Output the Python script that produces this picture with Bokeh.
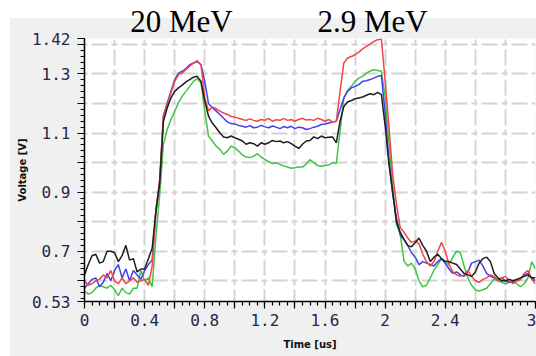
from bokeh.plotting import figure
from bokeh.models import Range1d, FixedTicker, CustomJSTickFormatter, LinearAxis
from bokeh.embed import file_html
from bokeh.resources import INLINE

# ---------------- data ----------------
time_us = [0.0, 0.025, 0.05, 0.075, 0.1, 0.125, 0.15, 0.175, 0.2, 0.225,
           0.25, 0.275, 0.3, 0.325, 0.35, 0.375, 0.4, 0.425, 0.45, 0.475,
           0.5, 0.525, 0.55, 0.575, 0.6, 0.625, 0.65, 0.675, 0.7, 0.725,
           0.75, 0.775, 0.8, 0.825, 0.85, 0.875, 0.9, 0.925, 0.95, 0.975,
           1.0, 1.025, 1.05, 1.075, 1.1, 1.125, 1.15, 1.175, 1.2, 1.225,
           1.25, 1.275, 1.3, 1.325, 1.35, 1.375, 1.4, 1.425, 1.45, 1.475,
           1.5, 1.525, 1.55, 1.575, 1.6, 1.625, 1.65, 1.675, 1.7, 1.725,
           1.75, 1.775, 1.8, 1.825, 1.85, 1.875, 1.9, 1.925, 1.95, 1.975,
           2.0, 2.025, 2.05, 2.075, 2.1, 2.125, 2.15, 2.175, 2.2, 2.225,
           2.25, 2.275, 2.3, 2.325, 2.35, 2.375, 2.4, 2.425, 2.45, 2.475,
           2.5, 2.525, 2.55, 2.575, 2.6, 2.625, 2.65, 2.675, 2.7, 2.725,
           2.75, 2.775, 2.8, 2.825, 2.85, 2.875, 2.9, 2.925, 2.95, 2.975, 3.0]

red_v = [0.60, 0.585, 0.59, 0.60, 0.605, 0.62, 0.61, 0.635, 0.60, 0.59,
         0.61, 0.59, 0.60, 0.61, 0.595, 0.60, 0.605, 0.585, 0.65,
         0.84, 0.94,
         1.16, 1.197, 1.236, 1.275, 1.297, 1.303, 1.315, 1.326, 1.337, 1.345,
         1.33, 1.22, 1.175, 1.188, 1.183, 1.174, 1.168, 1.163, 1.156,
         1.154, 1.15, 1.146, 1.143, 1.148, 1.143, 1.14, 1.146, 1.143, 1.15,
         1.14, 1.145, 1.143, 1.15, 1.143, 1.146, 1.14, 1.146, 1.15, 1.144, 1.146,
         1.143, 1.15, 1.146, 1.14, 1.146, 1.137, 1.14, 1.241,
         1.337, 1.354, 1.359, 1.365, 1.374, 1.385, 1.393, 1.401, 1.41, 1.416, 1.418, 1.276,
         1.124, 0.96, 0.86,
         0.78, 0.765, 0.745, 0.73, 0.735, 0.725, 0.69, 0.665, 0.65, 0.665,
         0.70, 0.73, 0.70, 0.655, 0.63, 0.62, 0.615, 0.62, 0.635, 0.615,
         0.60, 0.595, 0.605, 0.61, 0.62, 0.615, 0.60, 0.61, 0.615, 0.60,
         0.59, 0.60, 0.605, 0.625, 0.635, 0.605, 0.59]

blue_v = [0.575, 0.59, 0.605, 0.61, 0.58, 0.595, 0.625, 0.60, 0.635, 0.655,
          0.61, 0.64, 0.60, 0.635, 0.62, 0.605, 0.635, 0.655, 0.67,
          0.83, 0.935,
          1.157, 1.202, 1.241, 1.281, 1.303, 1.309, 1.318, 1.331, 1.337, 1.342,
          1.332, 1.275, 1.20, 1.186, 1.175, 1.163, 1.15, 1.138, 1.132,
          1.131, 1.126, 1.123, 1.12, 1.125, 1.118, 1.12, 1.126, 1.121, 1.118,
          1.124, 1.12, 1.115, 1.122, 1.118, 1.123, 1.115, 1.12, 1.118, 1.112, 1.115,
          1.12, 1.123, 1.129, 1.131, 1.134, 1.137, 1.14, 1.18,
          1.219, 1.241, 1.253, 1.258, 1.264, 1.275, 1.277, 1.281, 1.286, 1.292, 1.295, 1.165,
          1.009, 0.894, 0.814,
          0.755, 0.74, 0.72, 0.695, 0.68, 0.655, 0.665, 0.66, 0.655, 0.65,
          0.665, 0.675, 0.66, 0.64, 0.625, 0.63, 0.62, 0.615, 0.63, 0.66,
          0.665, 0.67, 0.65, 0.625, 0.615, 0.61, 0.605, 0.61, 0.60, 0.595,
          0.595, 0.60, 0.605, 0.62, 0.625, 0.61, 0.60]

black_v = [0.62, 0.655, 0.685, 0.69, 0.66, 0.665, 0.70, 0.70, 0.695, 0.665,
           0.685, 0.72, 0.67, 0.675, 0.63, 0.64, 0.64, 0.675, 0.71,
           0.837, 0.93,
           1.14, 1.185, 1.219, 1.241, 1.253, 1.262, 1.273, 1.281, 1.289, 1.292,
           1.275, 1.208, 1.157, 1.134, 1.118, 1.101, 1.087, 1.084, 1.09,
           1.084, 1.079, 1.073, 1.062, 1.067, 1.064, 1.056, 1.067, 1.062, 1.067,
           1.075, 1.071, 1.073, 1.067, 1.071, 1.064, 1.056, 1.048, 1.062, 1.073, 1.075,
           1.087, 1.081, 1.09, 1.084, 1.086, 1.087, 1.067, 1.14,
           1.19, 1.205, 1.21, 1.216, 1.219, 1.222, 1.228, 1.233, 1.23, 1.238, 1.23, 1.124,
           0.996, 0.90, 0.80,
           0.765, 0.74, 0.72, 0.715, 0.73, 0.745, 0.72, 0.70, 0.665, 0.68,
           0.69, 0.675, 0.665, 0.665, 0.66, 0.655, 0.64, 0.625, 0.62, 0.615,
           0.63, 0.66, 0.675, 0.68, 0.665, 0.625, 0.61, 0.60, 0.60, 0.605,
           0.60, 0.605, 0.61, 0.615, 0.62, 0.61, 0.61]

green_v = [0.565, 0.555, 0.56, 0.575, 0.585, 0.58, 0.575, 0.585, 0.57, 0.55,
           0.575, 0.56, 0.555, 0.575, 0.575, 0.635, 0.60, 0.61, 0.58,
           0.75, 0.89,
           1.062, 1.112, 1.146, 1.174, 1.202, 1.225, 1.241, 1.258, 1.275, 1.284,
           1.27, 1.174, 1.09, 1.073, 1.056, 1.045, 1.028, 1.039, 1.056,
           1.05, 1.039, 1.026, 1.019, 1.017, 1.022, 1.03, 1.019, 1.011, 1.003,
           0.997, 0.999, 0.994, 0.989, 0.985, 0.981, 0.983, 0.985, 0.985, 0.995, 1.01,
           1.0, 0.99, 0.988, 0.99, 0.992, 1.0, 0.997, 1.107,
           1.219, 1.244, 1.258, 1.275, 1.286, 1.292, 1.303, 1.31, 1.314, 1.312, 1.309, 1.222,
           1.073, 0.92, 0.79,
           0.76, 0.668, 0.65, 0.66, 0.64, 0.60, 0.58, 0.585, 0.61, 0.635,
           0.655, 0.675, 0.66, 0.655, 0.68, 0.70, 0.695, 0.65, 0.61, 0.585,
           0.57, 0.565, 0.57, 0.575, 0.59, 0.605, 0.60, 0.595, 0.59, 0.595,
           0.60, 0.59, 0.58, 0.59, 0.61, 0.665, 0.64]

series_names = ["green", "blue", "red", "black"]
series_colors = ["#44c244", "#4040ee", "#f54444", "#1e1e1e"]

x_tick_vals = [0.0, 0.2, 0.4, 0.6, 0.8, 1.0, 1.2, 1.4, 1.6, 1.8, 2.0, 2.2, 2.4, 2.6, 2.8, 3.0]
x_tick_text = ["0", "", "0.4", "", "0.8", "", "1.2", "", "1.6", "", "2", "", "2.4", "", "", "3"]
y_tick_vals = [0.53, 0.6, 0.7, 0.8, 0.9, 1.0, 1.1, 1.2, 1.3, 1.4, 1.42]
y_tick_text = ["0.53", "", "0.7", "", "0.9", "", "1.1", "", "1.3", "", "1.42"]
x_grid_vals = [0.2, 0.4, 0.6, 0.8, 1.0, 1.2, 1.4, 1.6, 1.8, 2.0, 2.2, 2.4, 2.6, 2.8, 3.0]
y_grid_vals = [0.6, 0.7, 0.8, 0.9, 1.0, 1.1, 1.2, 1.3, 1.4, 1.42]
x_minor_vals = [round(0.05 * i, 2) for i in range(61)]
y_minor_vals = [round(0.54 + 0.02 * i, 2) for i in range(45)]

titles = ["20 MeV", "2.9 MeV"]
x_title = "Time [us]"
y_title = "Voltage [V]"

for arr in (red_v, blue_v, black_v, green_v):
    assert len(arr) == len(time_us), len(arr)

# ---------------- layout constants (pixels) ----------------
W, H = 536, 356
FL, FR, FT, FB = 84, 535, 37, 301          # frame edges
X0, X1, Y0, Y1 = 0.0, 3.0, 0.53, 1.42
TITLE_CX = [181, 372]                      # title centres (px)


def px_x(px):
    return X0 + (px - FL) * (X1 - X0) / (FR - FL)


# ---------------- figure ----------------
p = figure(width=W, height=H, output_backend="svg", toolbar_location=None,
           x_range=Range1d(X0, X1), y_range=Range1d(Y0, Y1),
           min_border_left=FL, min_border_right=W - FR, min_border_top=FT, min_border_bottom=H - FB)
# transparent border: the page behind shows a grey panel with a white margin on top and left
p.border_fill_color = None
p.styles = {"background": "linear-gradient(#f0f0f0, #f0f0f0) 10px 18px / 526px 338px no-repeat, #ffffff"}
p.background_fill_color = "white"
p.outline_line_color = None

data_map = {"red": red_v, "blue": blue_v, "black": black_v, "green": green_v}
for name, col in zip(series_names, series_colors):
    p.line(time_us, data_map[name], line_color=col, line_width=1.5)

fmt_code = """
for (let i = 0; i < vals.length; i++) {
  if (Math.abs(vals[i] - tick) < 1e-6) return txt[i];
}
return "";
"""
p.xaxis.ticker = FixedTicker(ticks=x_tick_vals, minor_ticks=x_minor_vals)
p.yaxis.ticker = FixedTicker(ticks=y_tick_vals, minor_ticks=y_minor_vals)
p.xaxis.formatter = CustomJSTickFormatter(args=dict(vals=x_tick_vals, txt=x_tick_text), code=fmt_code)
p.yaxis.formatter = CustomJSTickFormatter(args=dict(vals=y_tick_vals, txt=y_tick_text), code=fmt_code)

for ax in (p.xaxis[0], p.yaxis[0]):
    ax.axis_line_color = "black"
    ax.axis_line_width = 1.5
    ax.major_tick_line_color = "black"
    ax.minor_tick_line_color = "black"
    ax.major_tick_line_width = 1.2
    ax.minor_tick_line_width = 1.2
    ax.major_tick_in = 0
    ax.major_tick_out = 7
    ax.minor_tick_in = 0
    ax.minor_tick_out = 4
    ax.major_label_text_font = "DejaVu Sans Mono"
    ax.major_label_text_font_size = "16px"
    ax.major_label_text_color = "#26264a"
    ax.axis_label_text_font = "DejaVu Sans"
    ax.axis_label_text_font_style = "bold"
    ax.axis_label_text_font_size = "10px"
    ax.axis_label_text_color = "#111111"
p.xaxis.axis_label = x_title
p.yaxis.axis_label = y_title
p.xaxis.major_label_standoff = 5
p.yaxis.major_label_standoff = 7
p.xaxis.axis_label_standoff = 10
p.yaxis.axis_label_standoff = 1

# the two energy titles, drawn as labels of a bare axis above the frame
title_pos = [px_x(c) for c in TITLE_CX]
title_axis = LinearAxis(ticker=FixedTicker(ticks=title_pos, minor_ticks=[]),
                        formatter=CustomJSTickFormatter(args=dict(vals=title_pos, txt=titles), code=fmt_code),
                        axis_line_color=None, major_tick_line_color=None, minor_tick_line_color=None,
                        major_tick_in=0, major_tick_out=0, minor_tick_in=0, minor_tick_out=0,
                        major_label_standoff=0,
                        major_label_text_font="Liberation Serif", major_label_text_font_size="31px",
                        major_label_text_color="black")
p.add_layout(title_axis, "above")

p.xgrid.ticker = FixedTicker(ticks=x_grid_vals)
p.ygrid.ticker = FixedTicker(ticks=y_grid_vals)
for g in (p.xgrid[0], p.ygrid[0]):
    g.grid_line_color = "#d4d4d4"
    g.grid_line_width = 2
    g.grid_line_dash = "6 4 16 4"
p.ygrid.grid_line_dash_offset = 3
p.xgrid.grid_line_dash_offset = 14

open("out.html", "w").write(file_html(p, INLINE))
